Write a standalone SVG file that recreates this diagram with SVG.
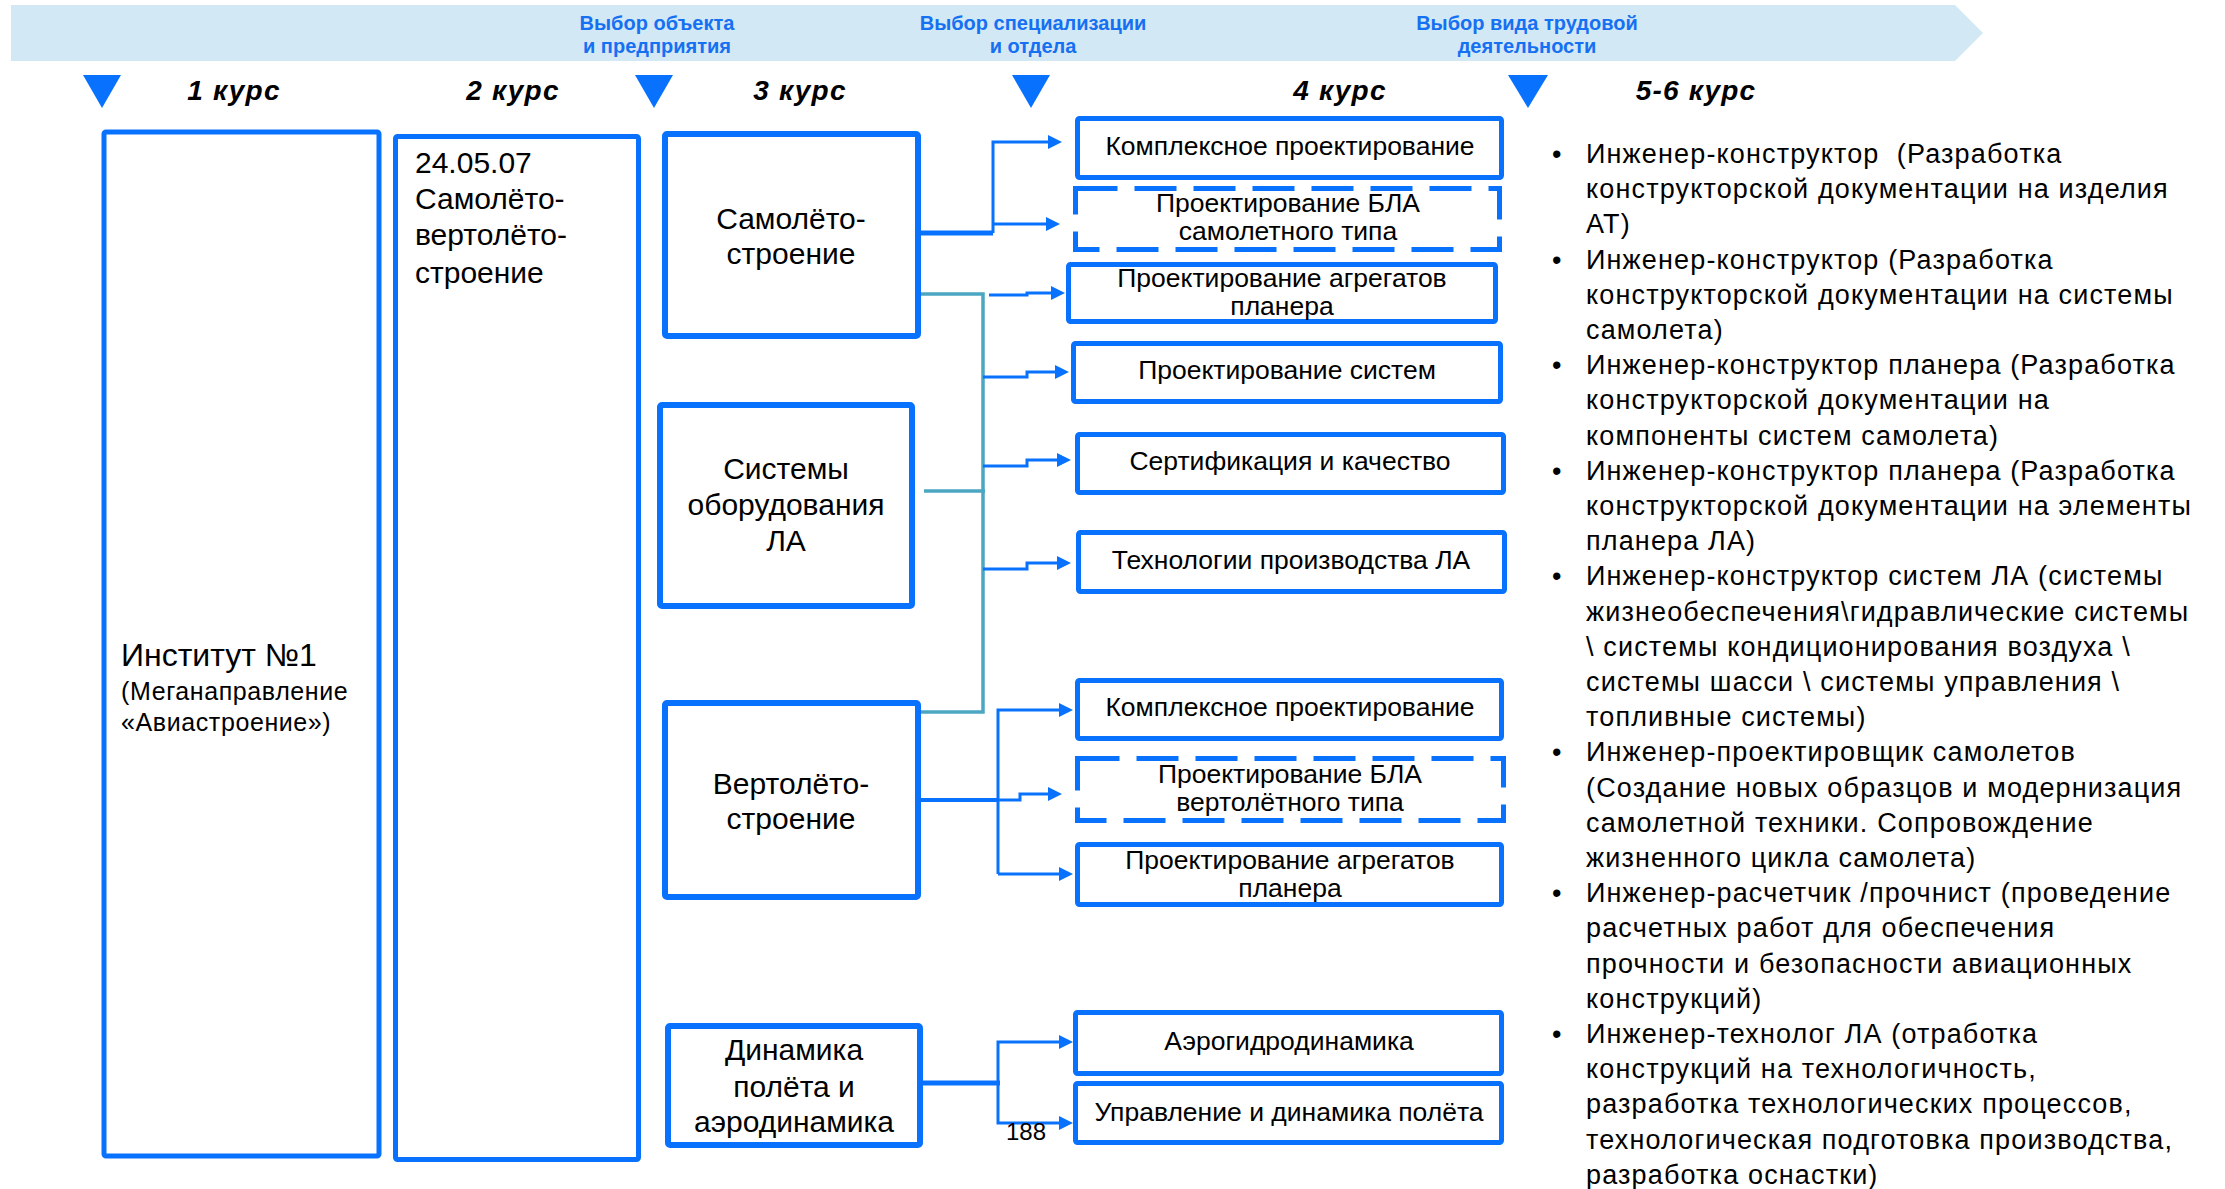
<svg xmlns="http://www.w3.org/2000/svg" width="2225" height="1189" viewBox="0 0 2225 1189">
<defs>
<style>
.bg{fill:#fff}
.box{fill:#fff;stroke:#0872ff;stroke-width:5}
.b3{stroke-width:6}
.dash{stroke-dasharray:42 17}
.t{font-family:"Liberation Sans",Arial,sans-serif;fill:#000}
.c{text-anchor:middle}
.course{font-weight:bold;font-style:italic;font-size:28px;letter-spacing:1.2px}
.ban{font-family:"Liberation Sans",Arial,sans-serif;font-weight:bold;font-size:20px;fill:#1670f2;text-anchor:middle}
.t3{font-size:30px}
.t4{font-size:26.5px}
.li{font-size:27px;letter-spacing:1.15px}
.conn{fill:none;stroke:#0872ff;stroke-width:3}
.thick{fill:none;stroke:#0872ff;stroke-width:5}
.teal{fill:none;stroke:#4ba6c2;stroke-width:3.5}
.tri{fill:#0872ff}
</style>
<marker id="ah" viewBox="0 0 14 14" markerWidth="14" markerHeight="14" refX="1" refY="7" orient="auto" markerUnits="userSpaceOnUse">
<path d="M0,0 L14,7 L0,14 z" fill="#0872ff"/>
</marker>
</defs>
<rect class="bg" x="0" y="0" width="2225" height="1189"/>

<g id="banner">
<polygon points="11,5 1955,5 1983,33 1955,61 11,61" fill="#d2e8f4"/>
<text class="ban" x="657" y="30">Выбор объекта</text>
<text class="ban" x="657" y="53">и предприятия</text>
<text class="ban" x="1033" y="30">Выбор специализации</text>
<text class="ban" x="1033" y="53">и отдела</text>
<text class="ban" x="1527" y="30">Выбор вида трудовой</text>
<text class="ban" x="1527" y="53">деятельности</text>
</g>

<g id="markers">
<polygon class="tri" points="83,75 121,75 102,108"/>
<polygon class="tri" points="635,75 673,75 654,108"/>
<polygon class="tri" points="1012,75 1050,75 1031,108"/>
<polygon class="tri" points="1508,75 1548,75 1528,108"/>
</g>

<g id="courses">
<text class="t c course" x="234" y="100">1 курс</text>
<text class="t c course" x="513" y="100">2 курс</text>
<text class="t c course" x="800" y="100">3 курс</text>
<text class="t c course" x="1340" y="100">4 курс</text>
<text class="t c course" x="1696" y="100">5-6 курс</text>
</g>

<g id="connectors">
<path class="thick" d="M921,233 H993"/>
<path class="conn" d="M993,233 V142 H1049" marker-end="url(#ah)"/>
<path class="conn" d="M993,224 H1047" marker-end="url(#ah)"/>
<path class="teal" d="M921,294 H983 V712 H921"/>
<path class="teal" d="M924,491 H985"/>
<path class="conn" d="M989,295 H1027 V293 H1052" marker-end="url(#ah)"/>
<path class="conn" d="M983,377 H1027 V372 H1056" marker-end="url(#ah)"/>
<path class="conn" d="M983,466 H1027 V460 H1058" marker-end="url(#ah)"/>
<path class="conn" d="M983,569 H1027 V563 H1058" marker-end="url(#ah)"/>
<path class="thick" d="M921,800 H998" style="stroke-width:4"/>
<path class="conn" d="M998,800 H1020 V794 H1049" marker-end="url(#ah)"/>
<path class="conn" d="M998,874 V710 H1060" marker-end="url(#ah)"/>
<path class="conn" d="M998,874 H1060" marker-end="url(#ah)"/>
<path class="thick" d="M921,1083 H1000"/>
<path class="conn" d="M998,1083 V1042 H1060" marker-end="url(#ah)"/>
<path class="conn" d="M998,1083 V1123 H1060" marker-end="url(#ah)"/>
</g>

<g id="institute">
<rect class="box" x="104" y="132" width="275" height="1024" rx="2"/>
<text class="t" x="121" y="666" font-size="32">Институт №1</text>
<text class="t" x="121" y="700" font-size="25" letter-spacing="0.6">(Меганаправление</text>
<text class="t" x="121" y="731" font-size="25" letter-spacing="0.6">«Авиастроение»)</text>
</g>

<g id="program">
<rect class="box" x="395.5" y="136.5" width="243" height="1023" rx="2"/>
<text class="t t3" x="415" y="173">24.05.07</text>
<text class="t t3" x="415" y="209">Самолёто-</text>
<text class="t t3" x="415" y="245">вертолёто-</text>
<text class="t t3" x="415" y="283">строение</text>
</g>

<g id="samoleto">
<rect class="box b3" x="665" y="134" width="253" height="202" rx="2"/>
<text class="t t3 c" x="791" y="229">Самолёто-</text>
<text class="t t3 c" x="791" y="264">строение</text>
</g>

<g id="sistemy">
<rect class="box b3" x="660" y="405" width="252" height="201" rx="2"/>
<text class="t t3 c" x="786" y="479">Системы</text>
<text class="t t3 c" x="786" y="515">оборудования</text>
<text class="t t3 c" x="786" y="551">ЛА</text>
</g>

<g id="vertoleto">
<rect class="box b3" x="665" y="703" width="253" height="194" rx="2"/>
<text class="t t3 c" x="791" y="794">Вертолёто-</text>
<text class="t t3 c" x="791" y="829">строение</text>
</g>

<g id="dinamika">
<rect class="box b3" x="668" y="1026" width="252" height="119" rx="2"/>
<text class="t t3 c" x="794" y="1060">Динамика</text>
<text class="t t3 c" x="794" y="1097">полёта и</text>
<text class="t t3 c" x="794" y="1132">аэродинамика</text>
</g>

<g id="k4-1">
<rect class="box" x="1077.5" y="118.5" width="424" height="59" rx="2"/>
<text class="t t4 c" x="1290" y="155">Комплексное проектирование</text>
</g>
<g id="k4-2">
<rect class="box dash" x="1075.5" y="188.5" width="424" height="61"/>
<text class="t t4 c" x="1288" y="212">Проектирование БЛА</text>
<text class="t t4 c" x="1288" y="240">самолетного типа</text>
</g>
<g id="k4-3">
<rect class="box" x="1068.5" y="264.5" width="427" height="57" rx="2"/>
<text class="t t4 c" x="1282" y="287">Проектирование агрегатов</text>
<text class="t t4 c" x="1282" y="315">планера</text>
</g>
<g id="k4-4">
<rect class="box" x="1073.5" y="343.5" width="427" height="58" rx="2"/>
<text class="t t4 c" x="1287" y="379">Проектирование систем</text>
</g>
<g id="k4-5">
<rect class="box" x="1077.5" y="434.5" width="426" height="58" rx="2"/>
<text class="t t4 c" x="1290" y="470">Сертификация и качество</text>
</g>
<g id="k4-6">
<rect class="box" x="1078.5" y="532.5" width="426" height="59" rx="2"/>
<text class="t t4 c" x="1291" y="569">Технологии производства ЛА</text>
</g>
<g id="k4-7">
<rect class="box" x="1077.5" y="680.5" width="424" height="58" rx="2"/>
<text class="t t4 c" x="1290" y="716">Комплексное проектирование</text>
</g>
<g id="k4-8">
<rect class="box dash" x="1077.5" y="758.5" width="426" height="62"/>
<text class="t t4 c" x="1290" y="783">Проектирование БЛА</text>
<text class="t t4 c" x="1290" y="811">вертолётного типа</text>
</g>
<g id="k4-9">
<rect class="box" x="1077.5" y="844.5" width="424" height="60" rx="2"/>
<text class="t t4 c" x="1290" y="869">Проектирование агрегатов</text>
<text class="t t4 c" x="1290" y="897">планера</text>
</g>
<g id="k4-10">
<rect class="box" x="1075.5" y="1012.5" width="426" height="61" rx="2"/>
<text class="t t4 c" x="1289" y="1050">Аэрогидродинамика</text>
</g>
<g id="k4-11">
<rect class="box" x="1075.5" y="1083.5" width="426" height="59" rx="2"/>
<text class="t t4 c" x="1289" y="1121">Управление и динамика полёта</text>
</g>

<text class="t" x="1006" y="1140" font-size="24">188</text>

<g id="careers" class="t li">
<text x="1552" y="163">•</text><text x="1586" y="163">Инженер-конструктор&#160; (Разработка</text>
<text x="1586" y="198.2">конструкторской документации на изделия</text>
<text x="1586" y="233.4">АТ)</text>
<text x="1552" y="268.6">•</text><text x="1586" y="268.6">Инженер-конструктор (Разработка</text>
<text x="1586" y="303.8">конструкторской документации на системы</text>
<text x="1586" y="339">самолета)</text>
<text x="1552" y="374.2">•</text><text x="1586" y="374.2">Инженер-конструктор планера (Разработка</text>
<text x="1586" y="409.4">конструкторской документации на</text>
<text x="1586" y="444.6">компоненты систем самолета)</text>
<text x="1552" y="479.8">•</text><text x="1586" y="479.8">Инженер-конструктор планера (Разработка</text>
<text x="1586" y="515">конструкторской документации на элементы</text>
<text x="1586" y="550.2">планера ЛА)</text>
<text x="1552" y="585.4">•</text><text x="1586" y="585.4">Инженер-конструктор систем ЛА (системы</text>
<text x="1586" y="620.6">жизнеобеспечения\гидравлические системы</text>
<text x="1586" y="655.8">\ системы кондиционирования воздуха \</text>
<text x="1586" y="691">системы шасси \ системы управления \</text>
<text x="1586" y="726.2">топливные системы)</text>
<text x="1552" y="761.4">•</text><text x="1586" y="761.4">Инженер-проектировщик самолетов</text>
<text x="1586" y="796.6">(Создание новых образцов и модернизация</text>
<text x="1586" y="831.8">самолетной техники. Сопровождение</text>
<text x="1586" y="867">жизненного цикла самолета)</text>
<text x="1552" y="902.2">•</text><text x="1586" y="902.2">Инженер-расчетчик /прочнист (проведение</text>
<text x="1586" y="937.4">расчетных работ для обеспечения</text>
<text x="1586" y="972.6">прочности и безопасности авиационных</text>
<text x="1586" y="1007.8">конструкций)</text>
<text x="1552" y="1043">•</text><text x="1586" y="1043">Инженер-технолог ЛА (отработка</text>
<text x="1586" y="1078.2">конструкций на технологичность,</text>
<text x="1586" y="1113.4">разработка технологических процессов,</text>
<text x="1586" y="1148.6">технологическая подготовка производства,</text>
<text x="1586" y="1183.8">разработка оснастки)</text>
</g>
</svg>
